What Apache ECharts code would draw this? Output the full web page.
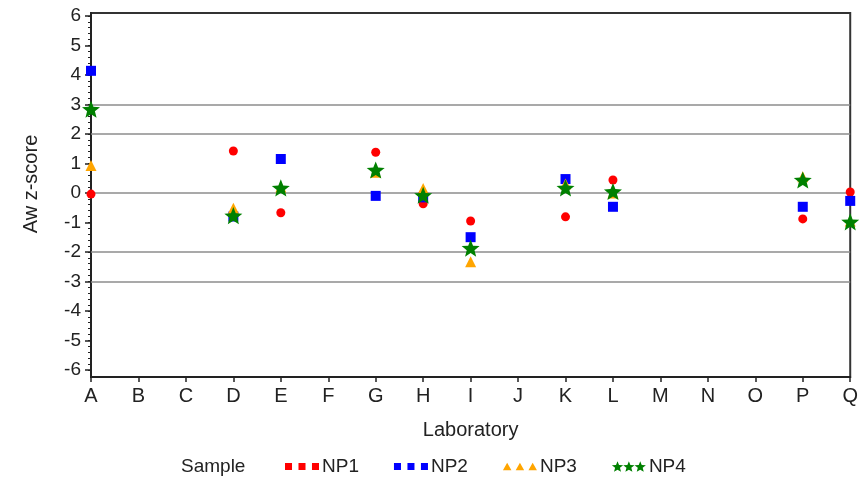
<!DOCTYPE html>
<html>
<head>
<meta charset="utf-8">
<script src="https://cdn.jsdelivr.net/npm/echarts@6/dist/echarts.min.js"></script>
<style>
  html, body { margin: 0; padding: 0; background: #fff; }
  #chart { width: 861px; height: 479px; }
</style>
</head>
<body>
<div id="chart"></div>
<script>
// laboratories on the x axis
var labs = ['A', 'B', 'C', 'D', 'E', 'F', 'G', 'H', 'I', 'J', 'K', 'L', 'M', 'N', 'O', 'P', 'Q'];

// Aw z-scores per sample (null = no result)
var np1 = [-0.04, null, null, 1.42, -0.67, null, 1.38, -0.37, -0.95, null, -0.81, 0.44, null, null, null, -0.88, 0.03];
var np2 = [4.14, null, null, -0.8, 1.15, null, -0.1, -0.15, -1.5, null, 0.47, -0.47, null, null, null, -0.47, -0.27];
var np3 = [0.93, null, null, -0.52, 0.2, null, 0.7, 0.15, -2.33, null, 0.3, 0.0, null, null, null, 0.55, -0.95];
var np4 = [2.84, null, null, -0.77, 0.17, null, 0.78, -0.08, -1.87, null, 0.17, 0.05, null, null, null, 0.44, -0.98];

// reference lines and y ticks
var refLines = [3, 2, 0, -2, -3];
var yTicks = [-6, -5, -4, -3, -2, -1, 0, 1, 2, 3, 4, 5, 6];
var yMinorStep = 0.2;

var yMinor = [];
for (var v = -6; v <= 6.001; v += yMinorStep) {
    yMinor.push(Math.round(v * 10) / 10);
}

var FONT = 'Liberation Sans, Arial, sans-serif';
var TXT = '#222';

/**
 * path for a row of three legend glyphs (or one star for the markers)
 */
function rowPath(kind, n) {
    var p = '';
    for (var i = 0; i < n; i++) {
        if (kind === 'square') {
            p += 'M' + (i * 12.5) + ' 0h6.5v6.5h-6.5z';
        } else if (kind === 'triangle') {
            var x = i * 12;
            p += 'M' + (x + 4) + ' 0L' + (x + 8) + ' 7L' + x + ' 7z';
        } else {
            var cx = i * 11.5 + 6, cy = 6, pts = [];
            for (var k = 0; k < 10; k++) {
                var r = k % 2 === 0 ? 6 : 2.6;
                var a = (-90 + k * 36) * Math.PI / 180;
                pts.push((cx + r * Math.cos(a)).toFixed(2) + ' ' + (cy + r * Math.sin(a)).toFixed(2));
            }
            p += 'M' + pts.join('L') + 'z';
        }
    }
    return 'path://' + p;
}

var lineStyleRef = { color: '#8c8c8c', width: 1.5, type: 'solid' };

var chart = echarts.init(document.getElementById('chart'));
chart.setOption({
    animation: false,
    backgroundColor: '#fff',
    textStyle: { fontFamily: FONT },
    grid: {
        left: 91, right: 8, top: 13, bottom: 102,
        show: true, borderColor: '#333', borderWidth: 2
    },
    legend: {
        left: 285, top: 457, padding: 0,
        itemWidth: 34, itemHeight: 11, itemGap: 35,
        textStyle: { fontSize: 19, color: TXT, fontFamily: FONT, padding: [0, 0, 0, -2] },
        data: [
            { name: 'NP1', icon: rowPath('square', 3) },
            { name: 'NP2', icon: rowPath('square', 3) },
            { name: 'NP3', icon: rowPath('triangle', 3) },
            { name: 'NP4', icon: rowPath('star', 3) }
        ]
    },
    graphic: [{
        type: 'text', left: 181, top: 457,
        style: { text: 'Sample', fontSize: 19, fill: TXT, fontFamily: FONT }
    }],
    xAxis: {
        type: 'category',
        data: labs,
        boundaryGap: false,
        name: 'Laboratory',
        nameLocation: 'middle',
        nameGap: 43,
        nameTextStyle: { fontSize: 20, color: TXT, fontFamily: FONT },
        axisLine: { onZero: false, lineStyle: { color: '#222', width: 2 } },
        axisTick: { show: true, length: 5, alignWithLabel: true, lineStyle: { color: '#222', width: 1.5 } },
        axisLabel: { fontSize: 20, color: TXT, margin: 9, interval: 0, fontFamily: FONT },
        splitLine: { show: false }
    },
    yAxis: [{
        type: 'value',
        min: -6.24,
        max: 6.1,
        name: 'Aw z-score',
        nameLocation: 'middle',
        nameGap: 50,
        nameTextStyle: { fontSize: 20, color: TXT, fontFamily: FONT, padding: [0, 0, 0, 22] },
        axisLine: { show: true, onZero: false, lineStyle: { color: '#222', width: 2 } },
        axisTick: { show: true, length: 6, customValues: yTicks, lineStyle: { color: '#222', width: 1.5 } },
        axisLabel: { customValues: yTicks, fontSize: 19, color: TXT, margin: 10, fontFamily: FONT },
        splitLine: { show: false }
    }, {
        type: 'value',
        min: -6.24,
        max: 6.1,
        position: 'left',
        axisLine: { show: false },
        axisTick: { show: true, length: 3, customValues: yMinor, lineStyle: { color: '#222', width: 1 } },
        axisLabel: { show: false },
        splitLine: { show: false }
    }],
    series: [{
        name: 'NP1', type: 'scatter', data: np1,
        symbol: 'circle', symbolSize: 9, symbolKeepAspect: true,
        itemStyle: { color: '#ff0000', opacity: 1 },
        markLine: {
            silent: true, symbol: 'none', label: { show: false },
            lineStyle: lineStyleRef, z: 1,
            data: refLines.map(function (y) { return { yAxis: y }; })
        }
    }, {
        name: 'NP2', type: 'scatter', data: np2,
        symbol: 'rect', symbolSize: 10, symbolKeepAspect: true,
        itemStyle: { color: '#0000ff', opacity: 1 }
    }, {
        name: 'NP3', type: 'scatter', data: np3,
        symbol: 'triangle', symbolSize: 11, symbolKeepAspect: true,
        itemStyle: { color: '#ffa500', opacity: 1 }
    }, {
        name: 'NP4', type: 'scatter', data: np4,
        symbol: rowPath('star', 1), symbolSize: 18, symbolKeepAspect: true,
        itemStyle: { color: '#008000', opacity: 1 }
    }]
});
</script>
</body>
</html>
